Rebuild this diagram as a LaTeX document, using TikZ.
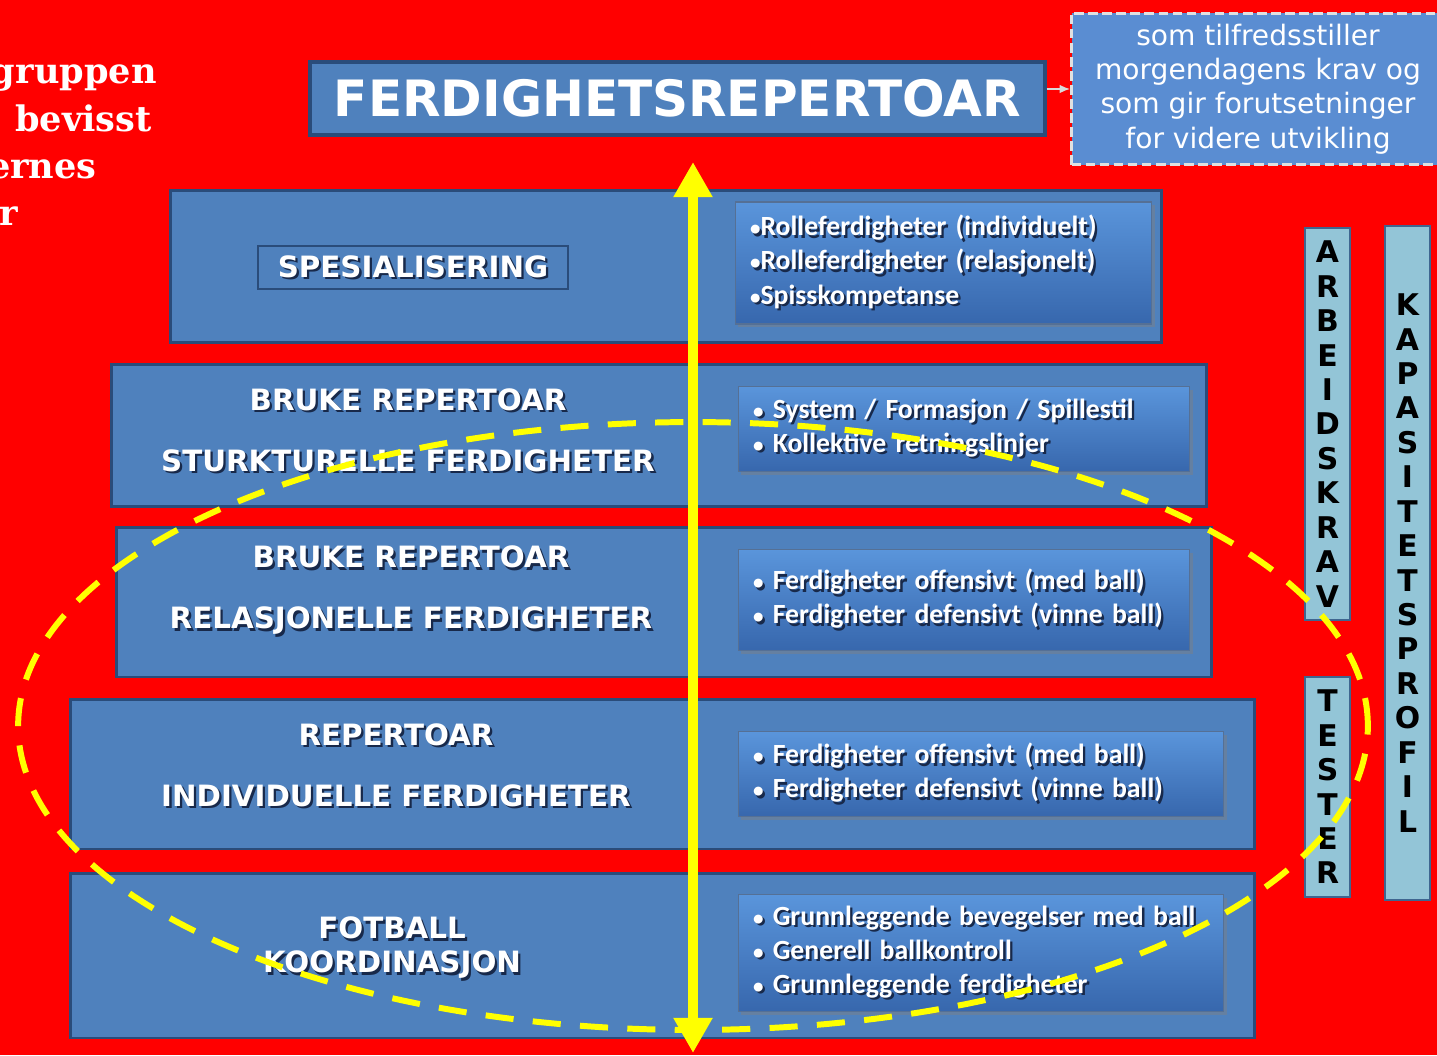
\documentclass[tikz,border=0pt]{standalone}
\usepackage{fontspec}
\setmainfont{DejaVu Sans}
\newfontfamily\listfont{Carlito}
\newfontfamily\sidefont{DejaVu Serif}
\usetikzlibrary{arrows.meta,shadows}
\definecolor{bgred}{HTML}{FF0000}
\definecolor{rowblue}{HTML}{4F81BD}
\definecolor{rowedge}{HTML}{2A4C7A}
\definecolor{notefill}{HTML}{5A8DD2}
\definecolor{listtop}{HTML}{5A95DB}
\definecolor{listbot}{HTML}{3767AD}
\definecolor{barfill}{HTML}{93C5D7}
\definecolor{baredge}{HTML}{3F6690}
\definecolor{shadowblue}{HTML}{18294A}
\definecolor{ringyellow}{HTML}{FFFF00}
% white text with a dark drop shadow
\newcommand{\shd}[1]{\leavevmode\rlap{\hspace{1.3pt}\raisebox{-1.3pt}{\textcolor{shadowblue}{#1}}}#1}
% small list bullet
\newcommand{\bul}{{\fontsize{12}{12}\selectfont•}}

\begin{document}
\begin{tikzpicture}[x=0.02cm, y=-0.02cm,
  rowbox/.style={draw=rowedge, line width=1.7pt, fill=rowblue, inner sep=0pt},
  labelbox/.style={draw=rowedge, line width=0.7pt, fill=rowblue, inner sep=0pt},
  rowlabel/.style={align=center, text=white, font=\bfseries\fontsize{16.7}{34.7}\selectfont},
  listbox/.style={draw=rowedge!80, line width=0.6pt, top color=listtop, bottom color=listbot,
    drop shadow={opacity=0.45, shadow xshift=1.5pt, shadow yshift=-1.8pt},
    inner xsep=0.3cm, inner ysep=0pt, align=left, text=white,
    font=\listfont\bfseries\fontsize{15.8}{19.4}\selectfont},
  barbox/.style={draw=baredge, line width=1pt, fill=barfill, inner sep=0pt, align=center,
    minimum width=0.9cm, font=\bfseries\fontsize{17}{19.6}\selectfont},
  sidetext/.style={anchor=base east, text=white, inner sep=0pt,
    font=\sidefont\bfseries\fontsize{20}{24}\selectfont},
  ring/.style={ringyellow, line width=3.4pt, dash pattern=on 16pt off 11pt},
  bigarrow/.style={ringyellow, line width=6pt,
    {Triangle[width=21pt,length=20pt]}-{Triangle[width=21pt,length=20pt]}}
]
\useasboundingbox (0,0) rectangle (1437,1055);
\fill[bgred] (0,0) rectangle (1437,1055);
\clip (0,0) rectangle (1437,1055);
% cut-off text on the left edge
\node[sidetext] (side1) at (157,83) {gruppen};
\node[sidetext] (side2) at (152,131) {bevisst};
\node[sidetext] (side3) at (97,178) {ernes};
\node[sidetext] (side4) at (18,225) {r};
% title and note
\node[draw=rowedge, line width=2pt, fill=rowblue, text=white, font=\bfseries\fontsize{28.5}{30}\selectfont,
  minimum width=14.7cm, minimum height=1.46cm, inner sep=0pt] (title) at (677.5,98.5) {FERDIGHETSREPERTOAR};
\node[draw=white!88!black, line width=1.7pt, dash pattern=on 5.5pt off 2.5pt, fill=notefill, text=white,
  align=center, font=\fontsize{16}{19.5}\selectfont, minimum width=7.46cm, minimum height=3.04cm,
  inner sep=0pt] (note) at (1258,89)
  {som tilfredsstiller\\morgendagens krav og\\som gir forutsetninger\\for videre utvikling};
\draw[white!85!black, line width=0.9pt, -{Latex[length=6pt,width=5pt]}] (title.east |- note.west) -- (note.west);
% rows
\node[rowbox, minimum width=19.84cm, minimum height=3.06cm] (row1) at (666,266.5) {};
\node[rowbox, minimum width=21.92cm, minimum height=2.86cm] (row2) at (659,435.5) {};
\node[rowbox, minimum width=21.92cm, minimum height=3.0cm] (row3) at (664,602) {};
\node[rowbox, minimum width=23.7cm, minimum height=3.0cm] (row4) at (662.5,774) {};
\node[rowbox, minimum width=23.7cm, minimum height=3.3cm] (row5) at (662.5,955.5) {};
% left labels
\node[labelbox, rowlabel, minimum width=6.2cm, minimum height=0.86cm] (lab1) at (413,267.5) {\shd{SPESIALISERING}};
\node[rowlabel] (lab2) at (408,431.5) {\shd{BRUKE REPERTOAR}\\\shd{STURKTURELLE FERDIGHETER}};
\node[rowlabel] (lab3) at (411,591.5) {\shd{BRUKE REPERTOAR}\\\shd{RELASJONELLE FERDIGHETER}};
\node[rowlabel] (lab4) at (396,766.5) {\shd{REPERTOAR}\\\shd{INDIVIDUELLE FERDIGHETER}};
\node[rowlabel, font=\bfseries\fontsize{16.7}{19.4}\selectfont] (lab5) at (392,949) {\shd{FOTBALL}\\\shd{KOORDINASJON}};
% right lists
\node[listbox, minimum width=8.34cm, minimum height=2.44cm, text width=7.74cm] (list1) at (943.5,263)
  {\shd{\bul Rolleferdigheter (individuelt)}\\\shd{\bul Rolleferdigheter (relasjonelt)}\\\shd{\bul Spisskompetanse}};
\node[listbox, minimum width=9.04cm, minimum height=1.7cm, text width=8.44cm] (list2) at (964,429)
  {\shd{\bul\ System / Formasjon / Spillestil}\\\shd{\bul\ Kollektive retningslinjer}};
\node[listbox, minimum width=9.04cm, minimum height=2.02cm, text width=8.44cm] (list3) at (964,600)
  {\shd{\bul\ Ferdigheter offensivt (med ball)}\\\shd{\bul\ Ferdigheter defensivt (vinne ball)}};
\node[listbox, minimum width=9.72cm, minimum height=1.7cm, text width=9.12cm] (list4) at (981,774)
  {\shd{\bul\ Ferdigheter offensivt (med ball)}\\\shd{\bul\ Ferdigheter defensivt (vinne ball)}};
\node[listbox, minimum width=9.72cm, minimum height=2.34cm, text width=9.12cm] (list5) at (981,953)
  {\shd{\bul\ Grunnleggende bevegelser med ball}\\\shd{\bul\ Generell ballkontroll}\\\shd{\bul\ Grunnleggende ferdigheter}};
% side bars
\node[barbox, minimum height=7.84cm] (arbeid) at (1327.5,424) {A\\R\\B\\E\\I\\D\\S\\K\\R\\A\\V};
\node[barbox, minimum height=4.4cm] (tester) at (1327.5,787) {T\\E\\S\\T\\E\\R};
\node[barbox, minimum height=13.48cm] (kapasitet) at (1407.5,563) {K\\A\\P\\A\\S\\I\\T\\E\\T\\S\\P\\R\\O\\F\\I\\L};
% dashed ring and the yellow arrow
\draw[ring] (693,726) ellipse [x radius=13.5cm, y radius=6.08cm];
\coordinate (uptip) at (693,162);
\coordinate (downtip) at (693,1053);
\draw[bigarrow] (downtip) -- (uptip);
\end{tikzpicture}
\end{document}
